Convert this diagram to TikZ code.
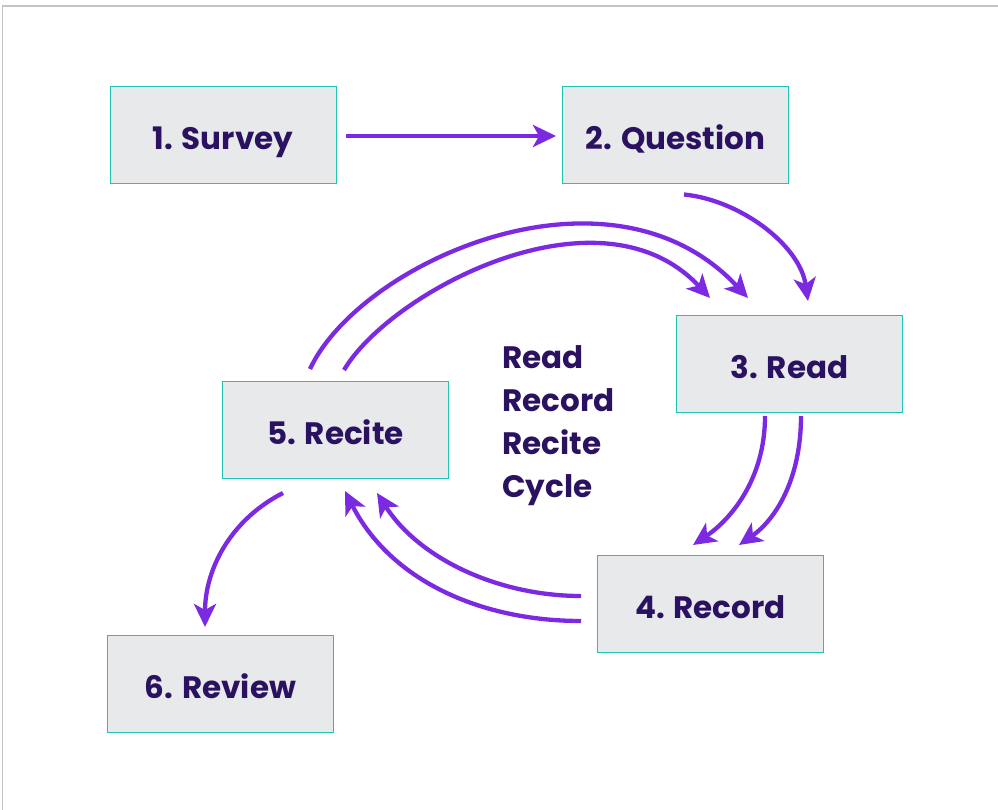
\documentclass[tikz,border=0pt]{standalone}
\usepackage{fontspec}
\setmainfont{Poppins}
\usetikzlibrary{arrows.meta,calc}
\definecolor{boxfill}{HTML}{E8E9EB}
\definecolor{boxline}{HTML}{1EC4B6}
\definecolor{txt}{HTML}{2A1260}
\definecolor{arrc}{HTML}{7B2AE2}
\definecolor{frame}{HTML}{C0C4C8}
\tikzset{
  stepbox/.style={draw=boxline, line width=1pt, fill=boxfill, minimum width=226pt, minimum height=97pt, inner sep=0pt, text height=28pt, text depth=0pt, text=txt, font=\fontsize{31}{36}\selectfont\bfseries},
  arr/.style={draw=arrc, line width=4.3pt, -{Stealth[length=23pt,width=22pt,inset=6pt]}},
}
\begin{document}
\begin{tikzpicture}[x=1pt,y=-1pt]
\useasboundingbox (0,0) rectangle (998,810);
\draw[frame, line width=1.5pt] (2.5,810) -- (2.5,6) -- (998,6);
\node[stepbox] (survey) at (223,135.5) {1. Survey};
\node[stepbox] (question) at (675.5,135.5) {2. Question};
\node[stepbox] (read) at (789.5,364) {3. Read};
\node[stepbox] (recite) at (335.5,430) {5. Recite};
\node[stepbox] (record) at (710.5,604) {4. Record};
\node[stepbox] (review) at (220.5,684) {6. Review};
\node[anchor=north west, align=left, text=txt, inner sep=0pt, font=\fontsize{31}{43}\selectfont\bfseries] (cycle) at (502,345) {Read\\Record\\Recite\\Cycle};
% arrows
\draw[arr] ($(survey.east)+(9,0.5)$) -- ($(question.west)+(-6,0.5)$);
\draw[arr] ($(question.south)+(8.5,10)$) .. controls (740,200) and (800,245) .. ($(read.north)+(18.5,-14)$);
\draw[arr] ($(recite.north)+(-25.5,-12)$) .. controls (360,262) and (610,150) .. ($(read.north)+(-41.5,-17)$);
\draw[arr] ($(recite.north)+(8.5,-11)$) .. controls (390,292) and (600,180) .. ($(read.north)+(-79.5,-17)$);
\draw[arr] ($(read.south)+(-24.5,3)$) .. controls (765,480) and (730,520) .. ($(record.north)+(-17.5,-10)$);
\draw[arr] ($(read.south)+(11.5,3)$) .. controls (801,480) and (775,520) .. ($(record.north)+(28.5,-10)$);
\draw[arr] ($(record.west)+(-16,-8)$) .. controls (500,596) and (420,560) .. ($(recite.south)+(41.5,14)$);
\draw[arr] ($(record.west)+(-16,17)$) .. controls (480,621) and (390,580) .. ($(recite.south)+(9.5,12)$);
\draw[arr] ($(recite.south)+(-52.5,14)$) .. controls (230,520) and (205,570) .. ($(review.north)+(-15.5,-8)$);
\end{tikzpicture}
\end{document}
